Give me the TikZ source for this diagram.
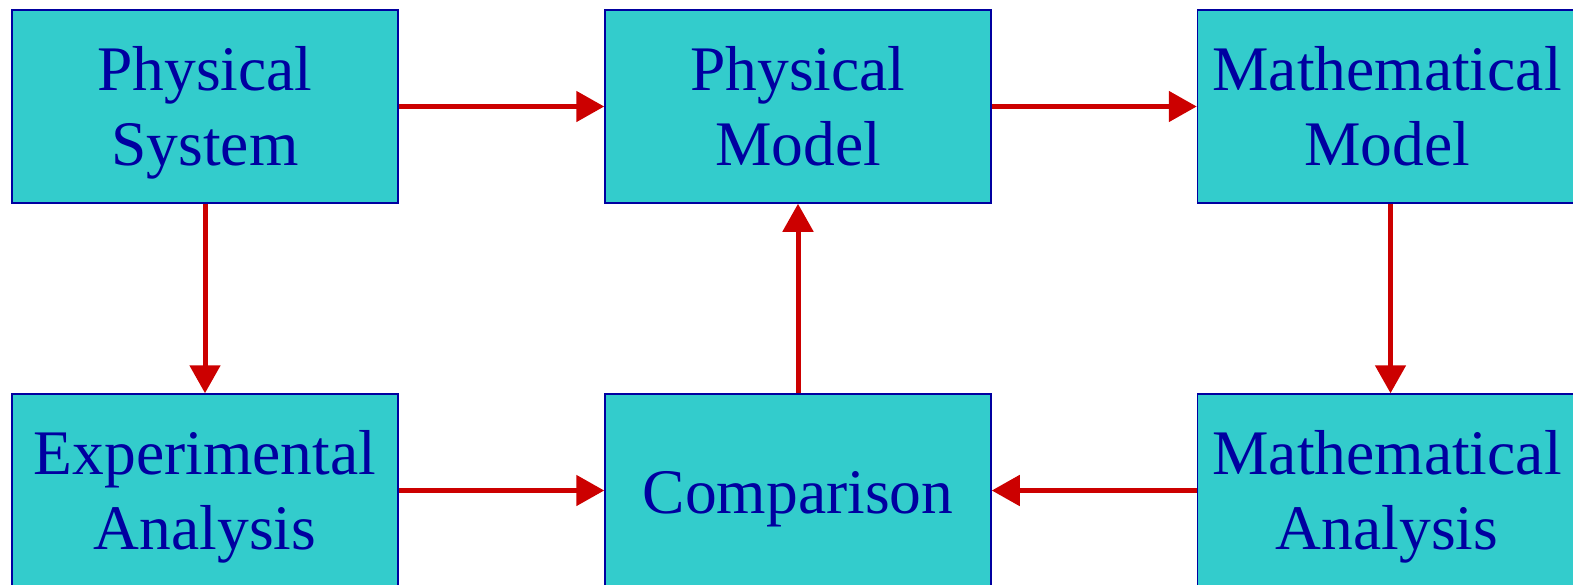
\documentclass[tikz,border=0pt]{standalone}
\usepackage{fontspec}
\setmainfont{Liberation Serif}
\usetikzlibrary{arrows.meta}
\definecolor{boxfill}{RGB}{51,204,204}
\definecolor{boxline}{RGB}{0,0,160}
\definecolor{arrowred}{RGB}{204,0,0}
\begin{document}
\begin{tikzpicture}[x=1pt,y=-1pt,
  blockbox/.style={draw=boxline, line width=1.5pt, fill=boxfill,
    minimum width=386pt, minimum height=193pt, inner sep=0pt},
  boxtext/.style={anchor=base, inner sep=0pt, text=boxline,
    font=\fontsize{63.5}{75}\selectfont},
  flow/.style={draw=arrowred, line width=5pt, -{Triangle[length=28pt,width=30pt]}}]
\useasboundingbox (0,0) rectangle (1573,584);
\node[blockbox] (ps) at (205,106.5) {};
\node[blockbox] (pm) at (798,106.5) {};
\node[blockbox] (mm) at (1390.5,106.5) {};
\node[blockbox] (ea) at (205,490.5) {};
\node[blockbox] (cp) at (798,490.5) {};
\node[blockbox] (ma) at (1390.5,490.5) {};
\node[boxtext] (psa) at (205,90) {Physical};
\node[boxtext] (psb) at (205,165) {System};
\node[boxtext] (pma) at (798,90) {Physical};
\node[boxtext] (pmb) at (798,165) {Model};
\node[boxtext] (mma) at (1387,90) {Mathematical};
\node[boxtext] (mmb) at (1387,165) {Model};
\node[boxtext] (eaa) at (205,474) {Experimental};
\node[boxtext] (eab) at (205,549) {Analysis};
\node[boxtext] (cpa) at (798,513) {Comparison};
\node[boxtext] (maa) at (1387,474) {Mathematical};
\node[boxtext] (mab) at (1387,549) {Analysis};
\draw[flow] (ps) -- (pm);
\draw[flow] (pm) -- (mm);
\draw[flow] (ps) -- (ea);
\draw[flow] (mm) -- (ma);
\draw[flow] (ea) -- (cp);
\draw[flow] (ma) -- (cp);
\draw[flow] (cp) -- (pm);
\end{tikzpicture}
\end{document}
